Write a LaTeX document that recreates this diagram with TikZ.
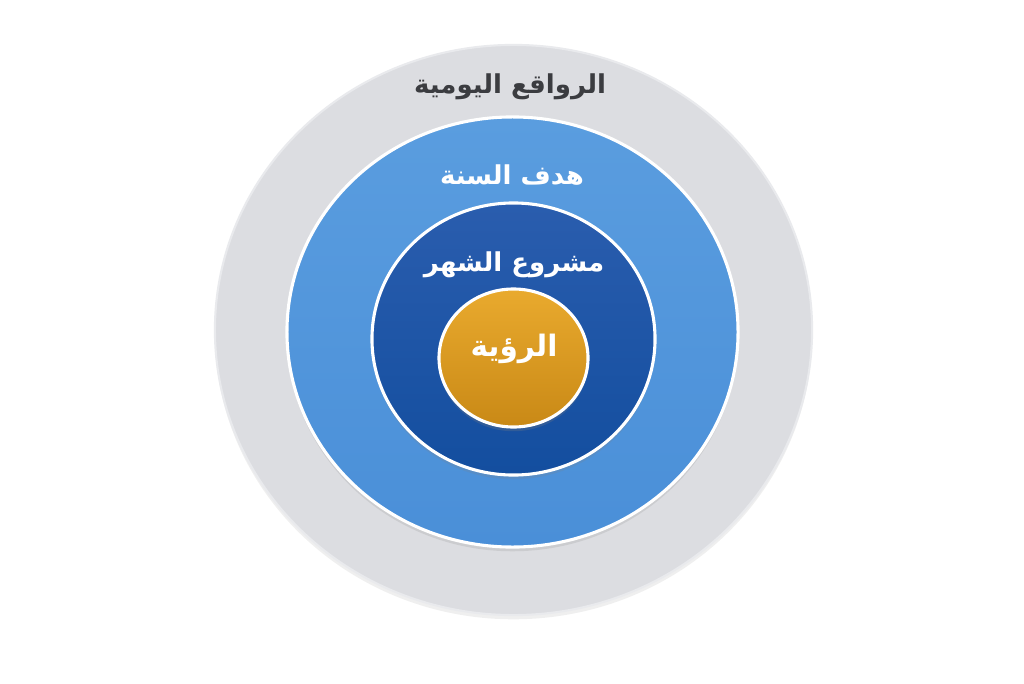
\documentclass[tikz,border=0pt]{standalone}
\usepackage{fontspec}
\usepackage{tikz}
\usetikzlibrary{positioning,shapes.geometric,shadows}
\TeXXeTstate=1
\newfontfamily\arabicfont[Script=Arabic]{DejaVu Sans}
\definecolor{ringGray}{HTML}{DCDDE1}
\definecolor{ringGrayRim}{HTML}{E9EAED}
\definecolor{yearBlueTop}{HTML}{5A9DDF}
\definecolor{yearBlueBot}{HTML}{4A8FD8}
\definecolor{monthBlueTop}{HTML}{2A5DAE}
\definecolor{monthBlueBot}{HTML}{134E9F}
\definecolor{visionGoldTop}{HTML}{E9AA2E}
\definecolor{visionGoldBot}{HTML}{C98916}
\definecolor{labelDark}{HTML}{3B3C40}

\begin{document}
\begin{tikzpicture}[
      x=0.025cm, y=-0.025cm,
      ring/.style={ellipse, inner sep=0pt, outer sep=0pt},
      label/.style={font=\arabicfont\bfseries\fontsize{18.5}{22}\selectfont, inner sep=0pt}
    ]
    \useasboundingbox[fill=white] (0,0) rectangle (1024,683);

    \node[ring, fill=ringGray, draw=ringGrayRim, line width=1.5pt,
          drop shadow={opacity=0.12, shadow xshift=0pt, shadow yshift=-3pt},
          minimum width=14.925cm, minimum height=14.25cm] (daily) at (513.5,330) {};
    \node[ring, top color=yearBlueTop, bottom color=yearBlueBot, draw=white, line width=2.2pt,
          drop shadow={opacity=0.18, shadow xshift=0pt, shadow yshift=-3pt},
          minimum width=11.275cm, minimum height=10.75cm] (year) at (512.5,332) {};
    \node[ring, top color=monthBlueTop, bottom color=monthBlueBot, draw=white, line width=2.2pt,
          drop shadow={opacity=0.2, shadow xshift=0pt, shadow yshift=-3pt},
          minimum width=7.075cm, minimum height=6.8cm] (month) at (513.5,339) {};
    \node[ring, top color=visionGoldTop, bottom color=visionGoldBot, draw=white, line width=2.2pt,
          drop shadow={opacity=0.25, shadow xshift=0pt, shadow yshift=-3pt},
          minimum width=3.725cm, minimum height=3.45cm] (vision) at (513.5,358) {};

    \node[label, text=labelDark] (dailyLabel) at (510,87) {\beginR الرواقع اليومية\endR};
    \node[label, text=white] (yearLabel) at (512,175) {\beginR هدف السنة\endR};
    \node[label, text=white] (monthLabel) at (514,265) {\beginR مشروع الشهر\endR};
    \node[label, text=white, font=\arabicfont\bfseries\fontsize{21}{24}\selectfont] (visionLabel) at (514,349) {\beginR الرؤية\endR};
  \end{tikzpicture}
\end{document}
